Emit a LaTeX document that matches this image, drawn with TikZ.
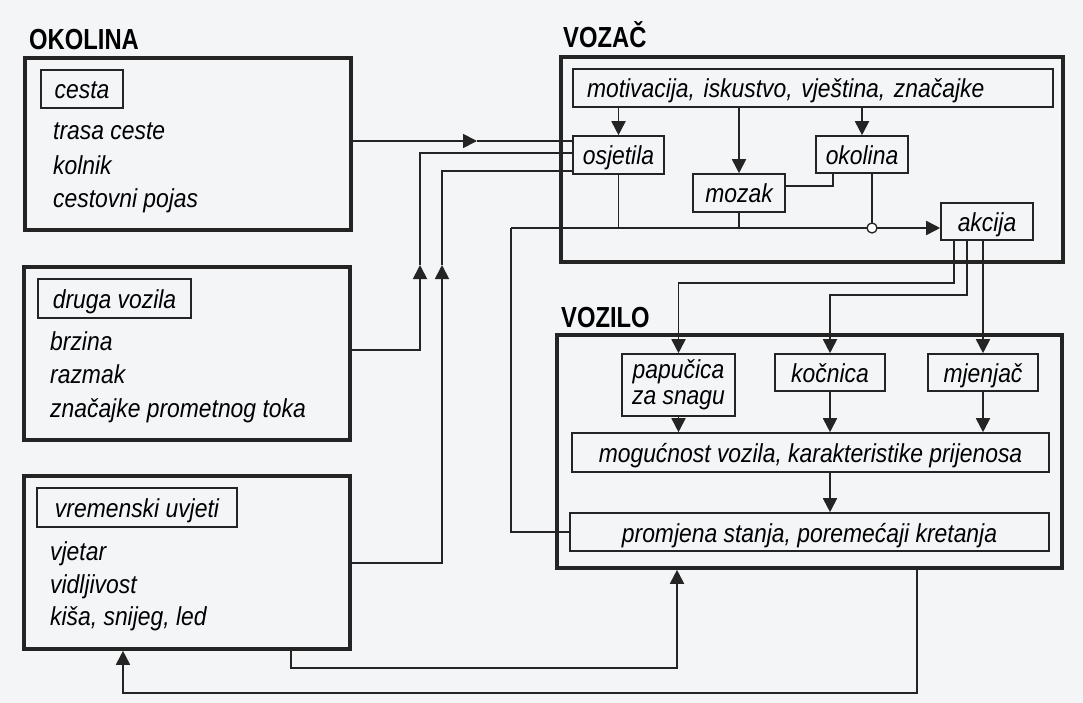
\documentclass[tikz,border=0pt]{standalone}
\usepackage{fontspec}
\setmainfont{Liberation Sans}
\newfontfamily\headfont[FakeStretch=0.82]{Liberation Sans}
\newfontfamily\bodyfont[FakeStretch=0.88]{Liberation Sans}
\usetikzlibrary{arrows.meta,calc}
\definecolor{paper}{RGB}{243,245,247}
\definecolor{ink}{RGB}{36,36,36}
\begin{document}
\begin{tikzpicture}[x=1pt,y=-1pt,
  bigbox/.style={draw=ink,line width=3.6pt,inner sep=0pt},
  ibox/.style={draw=ink,line width=1.6pt,inner sep=0pt,font=\bodyfont\itshape\fontsize{26}{27}\selectfont,text height=20pt,text depth=0pt},
  ltxt/.style={anchor=base west,inner sep=0pt,font=\bodyfont\itshape\fontsize{26}{27}\selectfont},
  head/.style={anchor=base west,inner sep=0pt,font=\headfont\bfseries\fontsize{29}{30}\selectfont},
  conn/.style={draw=ink,line width=1.8pt},
  arr/.style={-{Triangle[length=14pt,width=14pt]}},
  junc/.style={circle,draw=ink,fill=white,line width=1.3pt,minimum size=10pt,inner sep=0pt},
  line join=miter]
\fill[paper] (0,0) rectangle (1083,703);

% headings
\node[head] (hOk) at (29,50) {OKOLINA};
\node[head] (hVoz) at (563,48) {VOZAČ};
\node[head] (hVzl) at (561,327) {VOZILO};

% OKOLINA boxes
\node[bigbox,minimum width=326pt,minimum height=172pt] (oce) at (188,144) {};
\node[bigbox,minimum width=326pt,minimum height=173pt] (odv) at (187,353.5) {};
\node[bigbox,minimum width=326pt,minimum height=173pt] (ovu) at (187,562.5) {};

\node[ibox,minimum width=82pt,minimum height=38pt] (cesta) at (82,89) {cesta};
\node[ltxt] (t11) at (53,140) {trasa ceste};
\node[ltxt] (t12) at (53,175) {kolnik};
\node[ltxt] (t13) at (53,208) {cestovni pojas};

\node[ibox,minimum width=153pt,minimum height=39pt] (dvoz) at (114.5,298.5) {druga vozila};
\node[ltxt] (t21) at (50,350) {brzina};
\node[ltxt] (t22) at (50,383) {razmak};
\node[ltxt] (t23) at (50,417) {značajke prometnog toka};

\node[ibox,minimum width=200pt,minimum height=39pt] (vuv) at (137,507.5) {vremenski uvjeti};
\node[ltxt] (t31) at (50,560) {vjetar};
\node[ltxt] (t32) at (50,593) {vidljivost};
\node[ltxt] (t33) at (50,625) {kiša, snijeg, led};

% VOZAČ
\node[bigbox,minimum width=502pt,minimum height=205pt] (voz) at (812,159.5) {};
\node[ibox,minimum width=480pt,minimum height=38pt,text width=452pt,align=left] (mot) at (813,88) {motivacija, iskustvo, vještina, značajke};
\node[ibox,minimum width=91pt,minimum height=38pt] (osj) at (618.5,155) {osjetila};
\node[ibox,minimum width=92pt,minimum height=38pt] (moz) at (739,193) {mozak};
\node[ibox,minimum width=92pt,minimum height=37pt] (okl) at (862,154.5) {okolina};
\node[ibox,minimum width=92pt,minimum height=37pt] (akc) at (987,221.5) {akcija};

% VOZILO
\node[bigbox,minimum width=505pt,minimum height=233pt] (vzl) at (809.5,451.5) {};
\node[ibox,minimum width=113pt,minimum height=62pt,text height=,text depth=,align=center,font=\bodyfont\itshape\fontsize{26}{26}\selectfont] (pap) at (678.5,385) {papučica\\za snagu};
\node[ibox,minimum width=110pt,minimum height=37pt] (koc) at (830,372.5) {kočnica};
\node[ibox,minimum width=110pt,minimum height=37pt] (mje) at (983,372.5) {mjenjač};
\node[ibox,minimum width=477pt,minimum height=39pt] (mog) at (810.5,452.5) {mogućnost vozila, karakteristike prijenosa};
\node[ibox,minimum width=479pt,minimum height=38pt] (prom) at (809.5,532) {promjena stanja, poremećaji kretanja};

% inputs from OKOLINA to osjetila
\coordinate (m1) at (477,141);
\draw[conn,arr] (oce.east |- m1) -- (m1);
\draw[conn] (m1) -- (osj.west |- m1);

\coordinate (y2) at (0,350);
\coordinate (u2) at (420,265);
\coordinate (h2) at (0,153);
\draw[conn,arr] (odv.east |- y2) -| (u2);
\draw[conn] (u2) |- (osj.west |- h2);

\coordinate (y3) at (0,563);
\coordinate (u3) at (442,265);
\coordinate (h3) at (0,171);
\draw[conn,arr] (ovu.east |- y3) -| (u3);
\draw[conn] (u3) |- (osj.west |- h3);

% feedback promjena -> akcija line
\coordinate (fb) at (511,228);
\draw[conn] (prom.west) -| (fb);
\draw[conn,arr] (fb) -- (akc.west |- fb);
\draw[conn] (osj.south) -- (osj.south |- fb);
\draw[conn] (moz.south) -- (moz.south |- fb);
\coordinate (jc) at (872,228);
\draw[conn] (okl.south -| jc) -- (jc);
\node[junc] (jn) at (jc) {};

% motivacija arrows
\draw[conn,arr] (mot.south -| osj.north) -- (osj.north);
\draw[conn,arr] (mot.south -| moz.north) -- (moz.north);
\draw[conn,arr] (mot.south -| okl.north) -- (okl.north);

% mozak - okolina
\coordinate (mk) at (833,186);
\draw[conn] (moz.east |- mk) -| (okl.south -| mk);

% akcija outputs
\coordinate (a1) at (954,283);
\coordinate (a2) at (967,295);
\draw[conn,arr] (akc.south -| a1) -- (a1) -| (pap.north);
\draw[conn,arr] (akc.south -| a2) -- (a2) -| (koc.north);
\draw[conn,arr] (akc.south -| mje.north) -- (mje.north);

% VOZILO internal
\draw[conn,arr] (pap.south) -- (mog.north -| pap.south);
\draw[conn,arr] (koc.south) -- (mog.north -| koc.south);
\draw[conn,arr] (mje.south) -- (mog.north -| mje.south);
\draw[conn,arr] (mog.south -| koc.south) -- (prom.north -| koc.south);

% bottom loops
\coordinate (b1) at (291,668);
\coordinate (b1e) at (677,668);
\draw[conn,arr] (ovu.south -| b1) -- (b1) -- (b1e) -- (vzl.south -| b1e);
\coordinate (b2) at (917,693);
\coordinate (b2e) at (123,693);
\draw[conn,arr] (vzl.south -| b2) -- (b2) -- (b2e) -- (ovu.south -| b2e);
\end{tikzpicture}
\end{document}
